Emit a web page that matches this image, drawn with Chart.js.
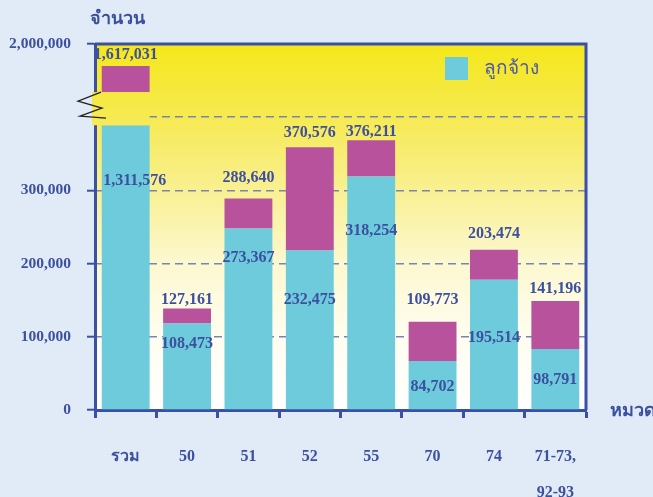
<!DOCTYPE html>
<html>
<head>
<meta charset="utf-8">
<script src="https://cdn.jsdelivr.net/npm/chart.js@4/dist/chart.umd.min.js"></script>
<style>
  html, body { margin: 0; padding: 0; background: #e0ebf7; }
  #wrap { width: 653px; height: 497px; }
</style>
</head>
<body>
<div id="wrap"><canvas id="chart" width="653" height="497"></canvas></div>
<script>
const categories = ['รวม', '50', '51', '52', '55', '70', '74', ['71-73,', '92-93']];
// bar heights as drawn (the picture is not to scale with its labels)
const employees = [389000, 118000, 248000, 218000, 319000, 67000, 178000, 83500];
const breakGap = [45200, 0, 0, 0, 0, 0, 0, 0];
const others = [35600, 20500, 41000, 141000, 49500, 53500, 41000, 65500];
const totalLabels = ['1,617,031', '127,161', '288,640', '370,576', '376,211', '109,773', '203,474', '141,196'];
const employeeLabels = ['1,311,576', '108,473', '273,367', '232,475', '318,254', '84,702', '195,514', '98,791'];
const yTickText = ['0', '100,000', '200,000', '300,000', '', '2,000,000'];

const axisColor = '#3a4fa6';
const textColor = '#3d4f9f';
const serif = '"Liberation Serif", "Times New Roman", serif';

// label placement tweaks, in pixels
const labelLift = [11, 9, 21, 14, 8, 22, 16, 12];
const labelDrop = [56, 20, 29, 49, 54, 26, 58, 31];
const labelShift = [9, 0, 0, 0, 0, 0, 0, 0];

let bgGrad = null;
function plotGradient(chart) {
  const a = chart.chartArea;
  const g = chart.ctx.createLinearGradient(0, a.top, 0, a.bottom);
  g.addColorStop(0, '#f5e71a');
  g.addColorStop(0.2, '#f6ea52');
  g.addColorStop(0.4, '#f9f092');
  g.addColorStop(0.6, '#fcf8d0');
  g.addColorStop(0.8, '#fffdf0');
  g.addColorStop(1, '#ffffff');
  return g;
}

const decor = {
  id: 'decor',
  beforeDraw(chart) {
    const { ctx, chartArea: a } = chart;
    bgGrad = plotGradient(chart);
    ctx.save();
    ctx.fillStyle = bgGrad;
    ctx.fillRect(a.left, a.top, a.right - a.left, a.bottom - a.top);
    ctx.restore();
  },
  afterDatasetsDraw(chart) {
    const { ctx, chartArea: a } = chart;
    const cyan = chart.getDatasetMeta(0).data;
    const gap = chart.getDatasetMeta(1).data;
    const mag = chart.getDatasetMeta(2).data;
    ctx.save();

    // frame top / right
    ctx.strokeStyle = axisColor;
    ctx.lineWidth = 3;
    ctx.beginPath();
    ctx.moveTo(a.left, a.top);
    ctx.lineTo(a.right, a.top);
    ctx.lineTo(a.right, a.bottom);
    ctx.stroke();

    // axis break on the first bar
    const g = gap[0];
    ctx.fillStyle = bgGrad;
    ctx.fillRect(a.left - 3, g.y, g.x + g.width / 2 - a.left + 3, g.base - g.y);
    const x0 = a.left, y0 = g.y;
    ctx.strokeStyle = '#222';
    ctx.lineWidth = 1.3;
    ctx.beginPath();
    ctx.moveTo(x0 + 6, y0);
    ctx.lineTo(x0 - 17, y0 + 9);
    ctx.lineTo(x0 + 7, y0 + 16);
    ctx.lineTo(x0 - 15, y0 + 24);
    ctx.lineTo(x0 + 11, y0 + 26);
    ctx.stroke();

    // value labels
    ctx.fillStyle = textColor;
    ctx.font = 'bold 16px ' + serif;
    ctx.textAlign = 'center';
    ctx.textBaseline = 'middle';
    for (let i = 0; i < categories.length; i++) {
      ctx.fillText(totalLabels[i], mag[i].x, mag[i].y - labelLift[i]);
      ctx.fillText(employeeLabels[i], cyan[i].x + labelShift[i], cyan[i].y + labelDrop[i]);
    }

    // axis titles
    ctx.font = 'bold 18px ' + serif;
    ctx.fillText('จำนวน', a.left + 22, a.top - 25);
    ctx.textAlign = 'left';
    ctx.fillText('หมวด', a.right + 24, a.bottom + 1);

    // legend
    ctx.fillStyle = chart.data.datasets[0].backgroundColor;
    ctx.fillRect(a.right - 141, a.top + 13, 23, 23);
    ctx.fillStyle = '#4a5aa8';
    ctx.font = '19px "Noto Sans", sans-serif';
    ctx.fillText(chart.data.datasets[0].label, a.right - 102, a.top + 25);
    ctx.restore();
  }
};

new Chart(document.getElementById('chart'), {
  type: 'bar',
  data: {
    labels: categories,
    datasets: [
      { label: 'ลูกจ้าง', data: employees, backgroundColor: '#6dcbdc' },
      { label: 'break', data: breakGap, backgroundColor: 'rgba(0,0,0,0)' },
      { label: 'อื่น ๆ', data: others, backgroundColor: '#b8529c' }
    ]
  },
  options: {
    responsive: false,
    animation: false,
    barPercentage: 0.78,
    categoryPercentage: 1,
    layout: { padding: { top: 44, right: 67, left: 0, bottom: 0 } },
    plugins: { legend: { display: false }, tooltip: { enabled: false } },
    scales: {
      x: {
        stacked: true,
        afterFit: (s) => { s.height = 87; },
        grid: {
          offset: true,
          drawOnChartArea: false,
          tickLength: 8,
          tickWidth: 3,
          tickColor: axisColor
        },
        border: { color: axisColor, width: 3 },
        ticks: {
          color: textColor,
          padding: 20,
          font: { family: serif, size: 16, weight: 'bold', lineHeight: 2.3 }
        }
      },
      y: {
        stacked: true,
        min: 0,
        max: 500000,
        afterFit: (s) => { s.width = 95; },
        grid: {
          color: (c) => (c.tick && c.tick.value > 0 && c.tick.value < 500000) ? '#7a84b0' : 'rgba(0,0,0,0)',
          lineWidth: 1.4,
          tickLength: 8,
          tickWidth: 2,
          tickColor: (c) => (c.tick && yTickText[c.index] !== '') ? axisColor : 'rgba(0,0,0,0)',
          tickBorderDash: [0, 0]
        },
        border: { color: axisColor, width: 3, dash: [8, 5] },
        ticks: {
          stepSize: 100000,
          color: textColor,
          padding: 16,
          font: { family: serif, size: 15.5, weight: 'bold' },
          callback: (v, i) => yTickText[i]
        }
      }
    }
  },
  plugins: [decor]
});
</script>
</body>
</html>
